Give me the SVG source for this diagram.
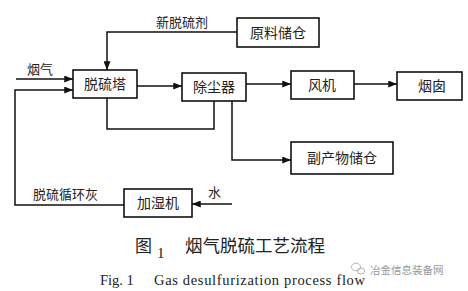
<svg xmlns="http://www.w3.org/2000/svg" width="468" height="291" viewBox="0 0 468 291">
<defs>
<marker id="arr" viewBox="0 0 10 8" refX="10" refY="4" markerWidth="9" markerHeight="7" markerUnits="userSpaceOnUse" orient="auto">
<path d="M0,0 L10,4 L0,8 z" fill="#111"/>
</marker>
</defs>
<style>
.box{fill:#fff;stroke:#111;stroke-width:1.6}
.lbl{font-family:"Liberation Serif","Noto Sans CJK SC",serif;font-size:14px;fill:#222;text-anchor:middle}
.edge{fill:none;stroke:#111;stroke-width:1.5}
.note{font-family:"Liberation Serif","Noto Sans CJK SC",serif;font-size:13px;fill:#222}
</style>
<rect width="468" height="291" fill="#fff"/>
<g id="connectors">
<path class="edge" d="M237,32 H107 V70" marker-end="url(#arr)"/>
<path class="edge" d="M16,79 H73" marker-end="url(#arr)"/>
<path class="edge" d="M124,205 H15 V90 H73" marker-end="url(#arr)"/>
<path class="edge" d="M137,86 H182" marker-end="url(#arr)"/>
<path class="edge" d="M107,98 V129 H214 V101"/>
<path class="edge" d="M232,101 V160 H291" marker-end="url(#arr)"/>
<path class="edge" d="M246,84 H291" marker-end="url(#arr)"/>
<path class="edge" d="M354,84 H397" marker-end="url(#arr)"/>
<path class="edge" d="M232,204 H192" marker-end="url(#arr)"/>
</g>
<g id="node-raw"><rect class="box" x="237" y="18" width="82" height="29"/><text class="lbl" x="278" y="37.5">原料储仓</text></g>
<g id="node-tower"><rect class="box" x="73" y="70" width="64" height="28"/><text class="lbl" x="105" y="89">脱硫塔</text></g>
<g id="node-dust"><rect class="box" x="182" y="73" width="64" height="28"/><text class="lbl" x="214" y="92">除尘器</text></g>
<g id="node-fan"><rect class="box" x="291" y="71" width="63" height="28"/><text class="lbl" x="322" y="90">风机</text></g>
<g id="node-chimney"><rect class="box" x="397" y="72" width="65" height="28"/><text class="lbl" x="432" y="91">烟囱</text></g>
<g id="node-byproduct"><rect class="box" x="291" y="142" width="102" height="32"/><text class="lbl" x="342" y="163">副产物储仓</text></g>
<g id="node-humid"><rect class="box" x="124" y="189" width="68" height="28"/><text class="lbl" x="158" y="208">加湿机</text></g>
<g id="labels">
<text class="note" x="182" y="27" text-anchor="middle">新脱硫剂</text>
<text class="note" x="27" y="74">烟气</text>
<text class="note" x="33" y="199">脱硫循环灰</text>
<text class="note" x="208" y="197">水</text>
</g>
<g id="caption">
<text x="135" y="252" font-family="'Noto Sans CJK SC',sans-serif" font-size="17" fill="#222">图</text>
<text x="157" y="258" font-family="'Liberation Serif',serif" font-size="15" fill="#222">1</text>
<text x="185" y="252" font-family="'Noto Sans CJK SC',sans-serif" font-size="17.5" fill="#222">烟气脱硫工艺流程</text>
<text x="100" y="285" font-family="'Liberation Serif',serif" font-size="14.5" fill="#222">Fig. 1</text>
<text x="154" y="285" font-family="'Liberation Serif',serif" font-size="14.5" fill="#222" textLength="211" lengthAdjust="spacing">Gas desulfurization process flow</text>
</g>
<g id="watermark" fill="none" stroke="#aaa" stroke-width="0.9">
<ellipse cx="356" cy="267" rx="4.5" ry="3.8"/>
<ellipse cx="361" cy="271" rx="3.6" ry="3"/>
<text x="370" y="274" font-family="'Noto Sans CJK SC',sans-serif" font-size="10.5" fill="#999" stroke="none">冶金信息装备网</text>
</g>
</svg>
